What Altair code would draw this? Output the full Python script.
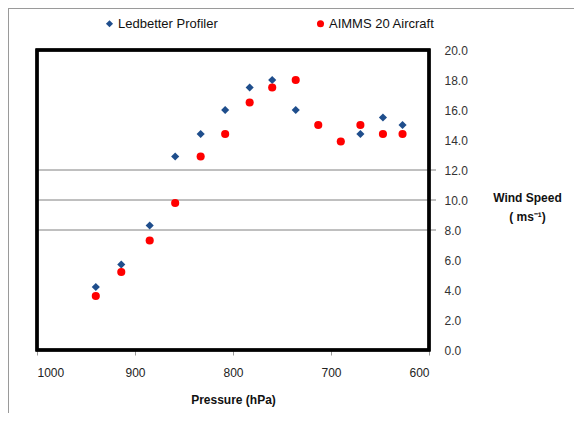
import altair as alt
import pandas as pd

# Ledbetter Profiler (blue diamonds)
lp_pressure = [940, 914, 885, 859, 833, 808, 783, 760, 736, 670, 647, 627]
lp_speed = [4.2, 5.7, 8.3, 12.9, 14.4, 16.0, 17.5, 18.0, 16.0, 14.4, 15.5, 15.0]

# AIMMS 20 Aircraft (red circles)
am_pressure = [940, 914, 885, 859, 833, 808, 783, 760, 736, 713, 690, 670, 647, 627]
am_speed = [3.6, 5.2, 7.3, 9.8, 12.9, 14.4, 16.5, 17.5, 18.0, 15.0, 13.9, 15.0, 14.4, 14.4]

series_names = ["Ledbetter Profiler", "AIMMS 20 Aircraft"]
series_colors = ["#1F4E8C", "#FF0000"]
series_shapes = ["diamond", "circle"]

y_ticks = [0, 2, 4, 6, 8, 10, 12, 14, 16, 18, 20]
x_ticks = [1000, 900, 800, 700, 600]
grid_values = [8, 10, 12]

rows = [{"Pressure": p, "Speed": s, "Series": series_names[0]} for p, s in zip(lp_pressure, lp_speed)]
rows += [{"Pressure": p, "Speed": s, "Series": series_names[1]} for p, s in zip(am_pressure, am_speed)]
df = pd.DataFrame(rows)
grid_df = pd.DataFrame({"g": grid_values})

W, H = 392, 300
PL, PT, PR, PB = 29, 42, 145, 63

xscale = alt.Scale(domain=[600, 1000], reverse=True, nice=False)
yscale = alt.Scale(domain=[0, 20], nice=False)

x_axis = alt.Axis(
    values=x_ticks,
    format="d",
    title="Pressure (hPa)",
    grid=False,
    domain=False,
    tickColor="#999999",
    tickSize=5,
    labelPadding=12,
    labelFontSize=12,
    labelColor="#222222",
    labelFont="Liberation Sans",
    titleFont="Liberation Sans",
    titleFontSize=12,
    titleFontWeight="bold",
    titlePadding=16,
    titleColor="#111111",
)

y_axis = alt.Axis(
    orient="right",
    values=y_ticks,
    format=".1f",
    grid=False,
    domain=False,
    ticks=False,
    labelPadding=15,
    labelFontSize=12,
    labelColor="#333333",
    labelFont="Liberation Sans",
    title=["Wind Speed", "( ms\u207b\u00b9)"],
    titleAngle=0,
    titleAlign="center",
    titleBaseline="middle",
    titleX=98,
    titleY=147,
    titleFont="Liberation Sans",
    titleFontSize=12,
    titleFontWeight="bold",
    titleColor="#111111",
    titleLineHeight=19,
)

grid = alt.Chart(grid_df).mark_rule(color="#808080", strokeWidth=1).encode(
    y=alt.Y("g:Q", scale=yscale, axis=y_axis),
    x=alt.value(0),
    x2=alt.value(W + 7),
)

points = alt.Chart(df).mark_point(filled=True, opacity=1, size=66).encode(
    x=alt.X("Pressure:Q", scale=xscale, axis=x_axis),
    y=alt.Y("Speed:Q", scale=yscale, axis=y_axis),
    color=alt.Color(
        "Series:N",
        scale=alt.Scale(domain=series_names, range=series_colors),
        legend=alt.Legend(
            title=None,
            orient="none",
            legendX=66,
            legendY=-33,
            direction="horizontal",
            columns=2,
            columnPadding=96,
            labelFontSize=13,
            labelFont="Liberation Sans",
            labelColor="#111111",
            symbolSize=50,
            labelOffset=2,
        ),
    ),
    shape=alt.Shape(
        "Series:N",
        scale=alt.Scale(domain=series_names, range=series_shapes),
    ),
)

frame_top = alt.Chart(grid_df).mark_rule(color="#9a9a9a", strokeWidth=1).encode(
    x=alt.value(-PL + 0.5), x2=alt.value(W + PR), y=alt.value(-PT + 0.5)
)
frame_left = alt.Chart(grid_df).mark_rule(color="#9a9a9a", strokeWidth=1).encode(
    x=alt.value(-PL + 0.5), y=alt.value(-PT + 0.5), y2=alt.value(H + PB)
)
plot_border = alt.Chart(grid_df).mark_rect(
    fill=None, fillOpacity=0, stroke="black", strokeWidth=3
).encode(
    x=alt.value(0), x2=alt.value(W), y=alt.value(0), y2=alt.value(H)
)

chart = (
    alt.layer(frame_top, frame_left, grid, points, plot_border)
    .properties(
        width=W,
        height=H,
        autosize=alt.AutoSizeParams(type="none"),
        padding={"left": PL, "top": PT, "right": PR, "bottom": PB},
    )
    .configure_view(strokeWidth=0)
    .configure(background="white")
)

chart.save("out.html", embed_options={"renderer": "svg", "actions": False})
